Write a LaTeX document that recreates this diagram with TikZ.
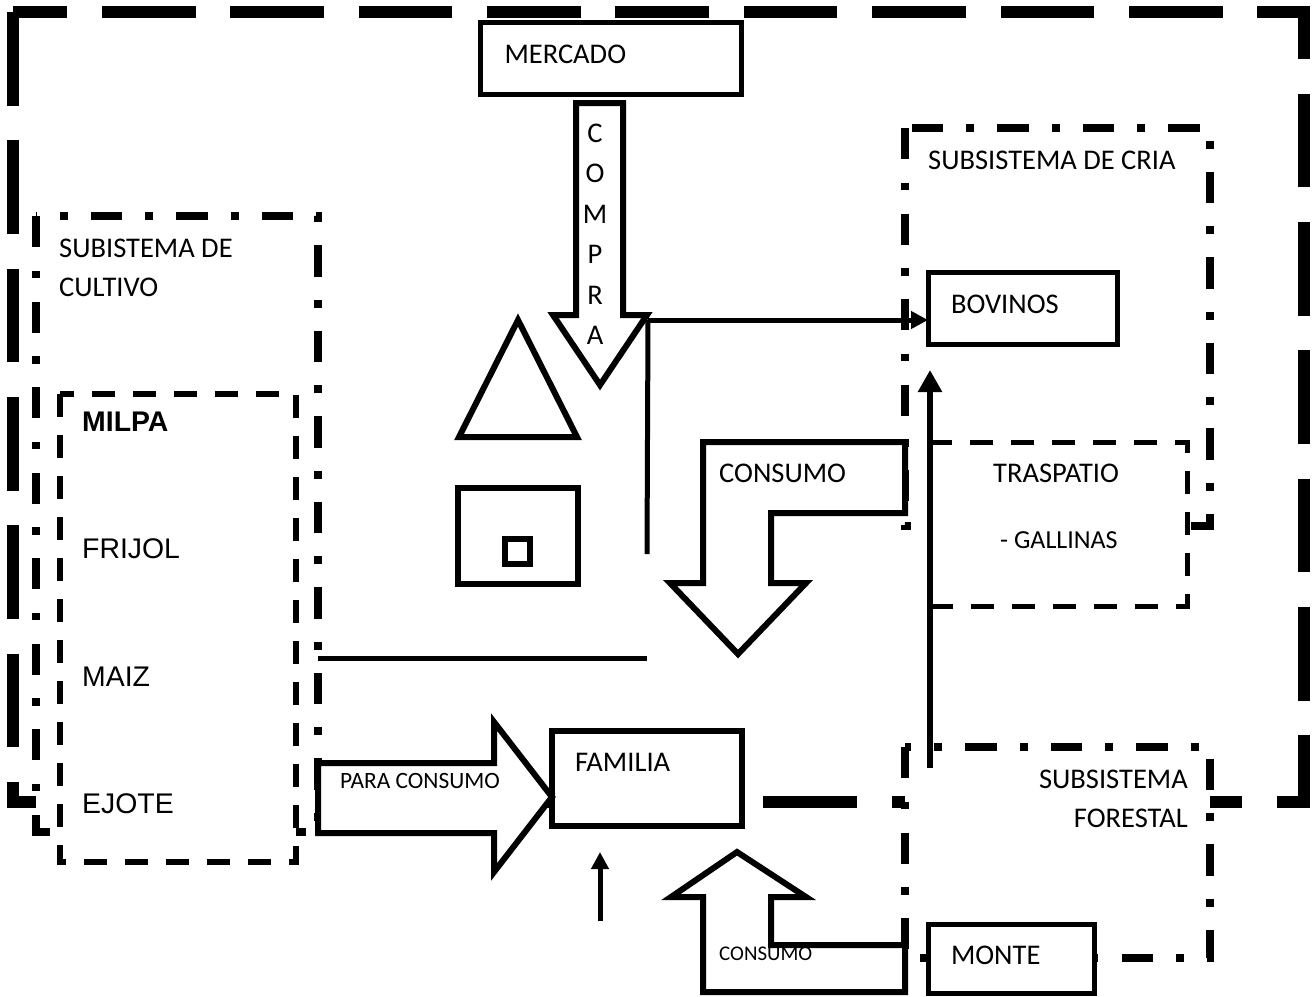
\documentclass[tikz,border=0pt]{standalone}
\usepackage{fontspec}
\setmainfont{Carlito}
\newfontfamily\arialfont{Liberation Sans}
\usetikzlibrary{positioning, arrows.meta}

\tikzstyle{block} = [rectangle, draw, fill=white, line width=5pt, outer sep=0pt, align=left, inner sep=0pt]
\tikzstyle{line} = [draw, line width=5pt, -{Triangle[length=17pt,width=17pt]}]
\tikzstyle{plain} = [draw, line width=5pt]
\tikzstyle{bigarrow} = [draw, fill=white, line width=6pt, miter limit=10]
\tikzstyle{figure} = [draw, line width=6pt, miter limit=10]
\tikzstyle{system} = [draw, line width=12pt, dash pattern=on 93.6pt off 34.77pt]
\tikzstyle{subsystem} = [draw, fill=white, line width=8pt, dash pattern=on 31.1pt off 23.4pt on 7.8pt off 23.2pt]
\tikzstyle{zone} = [draw, fill=white, dash pattern=on 23.4pt off 17.6pt]
\tikzstyle{tag} = [anchor=west, inner sep=0pt, align=left, font=\fontsize{28.5}{39}\selectfont]
\tikzstyle{crop} = [anchor=west, inner sep=0pt, font=\arialfont\fontsize{28.4}{34}\selectfont]

\begin{document}
\begin{tikzpicture}[x=1pt, y=-1pt, font=\fontsize{28.5}{34}\selectfont]
    \useasboundingbox (0,0) rectangle (1316,996);

    \path [system] (13,12) |- (1304,802) |- (13,12) -- cycle;

    \path [subsystem] (36,216) |- (318,832) |- (36,216) -- cycle;
    \path [zone, line width=6pt] (60,394) |- (296,862) |- (60,394) -- cycle;
    \path [subsystem] (905,128) |- (1210,526) |- (905,128) -- cycle;
    \path [zone, line width=5pt] (930,442) |- (1187,606) |- (930,442) -- cycle;
    \path [subsystem] (905,747) |- (1210,958) |- (905,747) -- cycle;

    \node [tag] (Cultivo) at (59,267.5) {SUBISTEMA DE\\CULTIVO};
    \node [crop, font=\arialfont\bfseries\fontsize{28.4}{34}\selectfont] (Milpa) at (82,422) {MILPA};
    \node [crop] (Frijol) at (82,549) {FRIJOL};
    \node [crop] (Maiz) at (82,677) {MAIZ};
    \node [crop] (Ejote) at (82,804) {EJOTE};
    \node [tag] (Cria) at (928,160) {SUBSISTEMA DE CRIA};
    \node [tag] (Traspatio) at (993,473) {TRASPATIO};
    \node [tag, font=\fontsize{26}{31}\selectfont] (Gallinas) at (1000,540) {- GALLINAS};
    \node [tag, align=right, anchor=east] (Forestal) at (1188,798.5) {SUBSISTEMA\\FORESTAL};

    \node [block, minimum width=261pt, minimum height=72pt, text width=213pt, text depth=8pt] (Mercado) at (611,58) {MERCADO};
    \node [block, minimum width=189pt, minimum height=72pt, text width=143pt, text depth=8pt] (Bovinos) at (1022.5,308) {BOVINOS};
    \node [block, line width=6pt, minimum width=190pt, minimum height=95pt, text width=144pt, text depth=33pt] (Familia) at (647,778.5) {FAMILIA};

    \path [figure] (518,320) -- (577,437) -- (459,437) -- cycle;
    \node [block, line width=6pt, minimum width=120pt, minimum height=96pt] (Casa) at (518,536) {};
    \node [block, line width=6pt, minimum width=25pt, minimum height=25pt] (Ventana) at (517.5,551) {};

    \path [bigarrow] (576,103) -- (623,103) -- (623,315) -- (647,315) -- (600,385) -- (553,315) -- (576,315) -- cycle;
    \node [inner sep=0pt, align=center, font=\fontsize{28.5}{40.5}\selectfont] (Compra) at (595,234) {C\\O\\M\\P\\R\\A};

    \path [bigarrow] (905,442) -- (703,442) -- (703,583) -- (670,583) -- (738,654) -- (806,583) -- (771,583) -- (771,513) -- (905,513) -- cycle;
    \node [tag] (ConsumoAlto) at (719,473) {CONSUMO};

    \path [bigarrow] (318,763) -- (494,763) -- (494,722) -- (552,797) -- (494,872) -- (494,833) -- (318,833) -- cycle;
    \node [tag, font=\fontsize{23.4}{28}\selectfont] (Para) at (340,781) {PARA CONSUMO};

    \path [bigarrow] (905,992) -- (703,992) -- (703,897) -- (671,897) -- (737,852) -- (806,897) -- (771,897) -- (771,945) -- (905,945) -- cycle;
    \node [tag, font=\fontsize{20.9}{25}\selectfont] (ConsumoBajo) at (719,954) {CONSUMO};

    \node [block, minimum width=166pt, minimum height=69pt, text width=120pt, text depth=6pt] (Monte) at (1011,958.5) {MONTE};

    \coordinate (Esquina) at (648,320);
    \coordinate (Corte) at (647,554);
    \coordinate (Salida) at (318,658);
    \coordinate (Llegada) at (647,658);
    \coordinate (Monte1) at (930,768);
    \coordinate (Bovinos1) at (930,370);
    \coordinate (Abajo) at (600,921);
    \coordinate (Arriba) at (600,852);

    \path [line] (Esquina) -- (Bovinos.west |- Esquina);
    \path [plain] (Esquina) -- (Corte);
    \path [plain] (Salida) -- (Llegada);
    \path [line, line width=6pt, -{Triangle[length=22pt,width=23pt]}] (Monte1) -- (Bovinos1);
    \path [line] (Abajo) -- (Arriba);
\end{tikzpicture}
\end{document}
